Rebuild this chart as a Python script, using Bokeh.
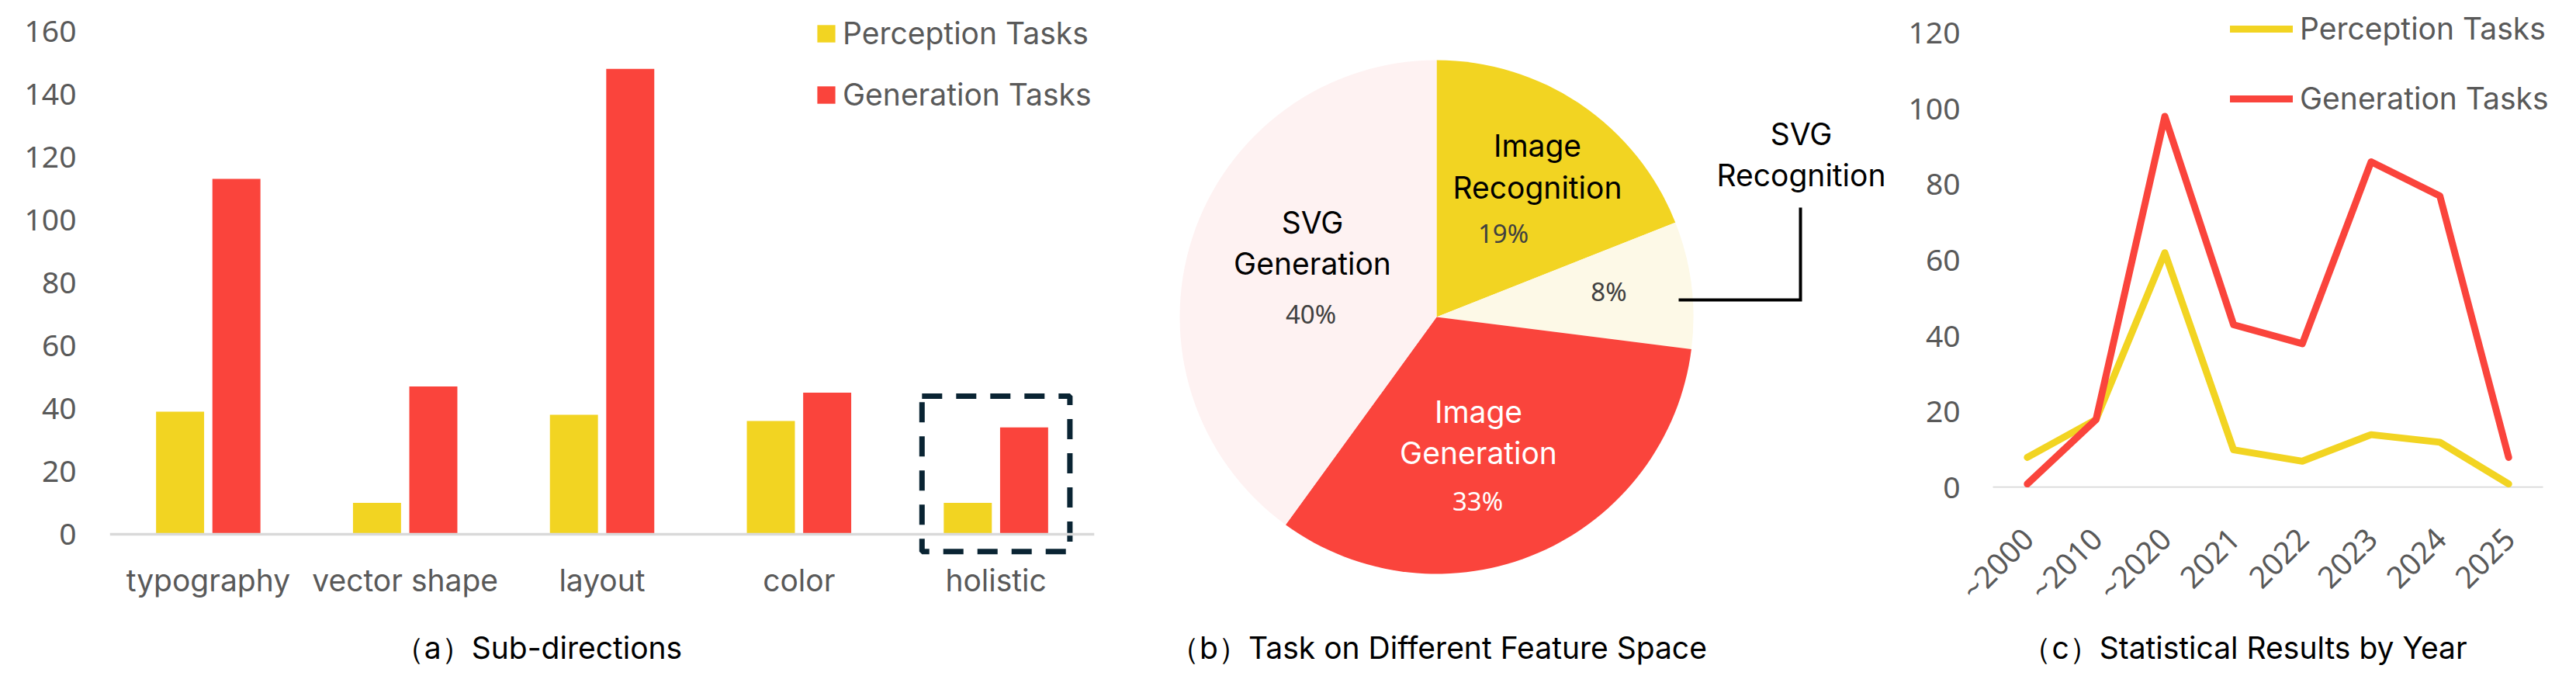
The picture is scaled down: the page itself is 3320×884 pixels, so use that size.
import math
from bokeh.plotting import figure
from bokeh.layouts import row, column
from bokeh.models import (ColumnDataSource, FactorRange, Range1d, FixedTicker,
                          Legend, LegendItem, Span)
from bokeh.transform import dodge
from bokeh.embed import file_html
from bokeh.resources import INLINE
from bokeh.core.properties import value

# ---------------- data ----------------
sub_directions = ["typography", "vector shape", "layout", "color", "holistic"]
perception_counts = [39, 10, 38, 36, 10]
generation_counts = [113, 47, 148, 45, 34]
a_yticks = [0, 20, 40, 60, 80, 100, 120, 140, 160]

pie_names = ["Image Recognition", "SVG Recognition", "Image Generation", "SVG Generation"]
pie_shares = [19, 8, 33, 40]
pie_pct = ["19%", "8%", "33%", "40%"]

years = ["~2000", "~2010", "~2020", "2021", "2022", "2023", "2024", "2025"]
perception_by_year = [8, 18, 62, 10, 7, 14, 12, 1]
generation_by_year = [1, 18, 98, 43, 38, 86, 77, 8]
c_yticks = [0, 20, 40, 60, 80, 100, 120]

legend_names = ["Perception Tasks", "Generation Tasks"]
captions = ["（a）Sub-directions", "（b）Task on Different Feature Space",
            "（c）Statistical Results by Year"]

# ---------------- styles ----------------
YEL = "#F2D422"
RED = "#FA443C"
CREAM = "#FDF9E7"
PINK = "#FEF2F2"
TICK = "#595959"
TXT = "Inter"
NUM = "Noto Sans"
FS = "39px"
H = 806      # height of the chart row
HC = 70      # height of the caption strip


def style_common(p):
    p.outline_line_color = None
    p.background_fill_color = "white"
    p.border_fill_color = "white"
    for g in p.grid:
        g.visible = False


def style_axis(ax, standoff, font):
    ax.axis_line_color = None
    ax.major_tick_line_color = None
    ax.minor_tick_line_color = None
    ax.major_tick_out = 0
    ax.major_tick_in = 0
    ax.major_label_text_font = font
    ax.major_label_text_font_size = FS
    ax.major_label_text_color = TICK
    ax.major_label_standoff = standoff


# ---------------- (a) bars ----------------
fa = figure(width=1450, height=H,
            x_range=FactorRange(*sub_directions), y_range=Range1d(-7.9, 169.75),
            output_backend="svg", toolbar_location=None, frame_align=False,
            min_border_left=141, min_border_right=40,
            min_border_top=0, min_border_bottom=86)
style_common(fa)
src_a = ColumnDataSource(dict(cat=sub_directions, perception=perception_counts,
                              generation=generation_counts))
rp = fa.vbar(x=dodge("cat", -0.143, range=fa.x_range), top="perception", width=0.244,
             source=src_a, fill_color=YEL, line_color=None)
rg = fa.vbar(x=dodge("cat", 0.143, range=fa.x_range), top="generation", width=0.244,
             source=src_a, fill_color=RED, line_color=None)
fa.add_layout(Span(location=0, dimension="width", line_color="#D9D9D9", line_width=3.5))

hol_top = max(perception_counts[-1], generation_counts[-1]) + 9.9
hol_bot = -5.5
fa.rect(x=[sub_directions[-1]], y=[(hol_top + hol_bot) / 2], width=0.751,
        height=hol_top - hol_bot, fill_color=None, line_color="#0A2433",
        line_width=7, line_dash="26 18")

style_axis(fa.xaxis[0], 3, TXT)
style_axis(fa.yaxis[0], 43, NUM)
fa.yaxis[0].ticker = FixedTicker(ticks=a_yticks)

leg_a = Legend(items=[LegendItem(label=legend_names[0], renderers=[rp]),
                      LegendItem(label=legend_names[1], renderers=[rg])],
               location=(909, 575), glyph_width=29, glyph_height=28,
               label_standoff=7, spacing=32, padding=0, margin=0,
               border_line_color=None, background_fill_alpha=0,
               label_text_font=TXT, label_text_font_size=FS, label_text_color=TICK)
fa.add_layout(leg_a)

# ---------------- (b) pie ----------------
fb = figure(width=995, height=H, x_range=Range1d(0, 995), y_range=Range1d(HC, H + HC),
            x_axis_type=None, y_axis_type=None, output_backend="svg",
            toolbar_location=None, min_border=0, frame_align=False)
style_common(fb)
total = float(sum(pie_shares))
cum = [0.0]
for s in pie_shares:
    cum.append(cum[-1] + s / total)
starts = [math.pi / 2 - 2 * math.pi * c for c in cum[:-1]]
ends = [math.pi / 2 - 2 * math.pi * c for c in cum[1:]]
cx, cy, rad = 401, 468, 331
src_b = ColumnDataSource(dict(name=pie_names, share=pie_shares, start=starts, end=ends,
                              color=[YEL, CREAM, RED, PINK]))
fb.wedge(x=cx, y=cy, radius=rad, start_angle="start", end_angle="end",
         direction="clock", fill_color="color", line_color=None, source=src_b)

# name labels (two lines each), placed per slice
name_lines = [n.split(" ") for n in pie_names]
lx = [531, 871, 455, 241]
ly1 = [689, 704, 346, 590]
ly2 = [635, 651, 293, 537]
name_col = ["black", "black", "white", "black"]
fb.text(x=lx, y=ly1, text=[l[0] for l in name_lines], text_color=name_col,
        text_font=value(TXT), text_font_size=FS, text_align="center",
        text_baseline="middle")
fb.text(x=lx, y=ly2, text=[l[1] for l in name_lines], text_color=name_col,
        text_font=value(TXT), text_font_size=FS, text_align="center",
        text_baseline="middle")
px_ = [487, 623, 454, 239]
py_ = [576, 501, 231, 472]
fb.text(x=px_, y=py_, text=pie_pct, text_color=["#404040", "#404040", "white", "#404040"],
        text_font=value(NUM), text_font_size="33px", text_align="center",
        text_baseline="middle")
fb.line(x=[713, 870, 870], y=[490, 490, 609], line_color="black", line_width=4,
        line_join="miter")

# ---------------- (c) lines ----------------
fc = figure(width=867, height=H,
            x_range=FactorRange(*years, range_padding=0.079),
            y_range=Range1d(0, 128.6),
            output_backend="svg", toolbar_location=None, frame_align=False,
            min_border_left=95, min_border_right=7,
            min_border_top=0, min_border_bottom=178)
style_common(fc)
src_c = ColumnDataSource(dict(year=years, perception=perception_by_year,
                              generation=generation_by_year))
# baseline spanning the category slots only
src_base = ColumnDataSource(dict(x0=[years[0]], x1=[years[-1]], y=[0]))
fc.segment(x0=dodge("x0", -0.5, range=fc.x_range), y0="y",
           x1=dodge("x1", 0.5, range=fc.x_range), y1="y", source=src_base,
           line_color="#D9D9D9", line_width=3.5)
lp = fc.line(x="year", y="perception", source=src_c, line_color=YEL, line_width=9,
             line_join="round", line_cap="round")
lg = fc.line(x="year", y="generation", source=src_c, line_color=RED, line_width=9,
             line_join="round", line_cap="round")
style_axis(fc.xaxis[0], 58, NUM)
fc.xaxis[0].major_label_orientation = math.pi / 4
style_axis(fc.yaxis[0], 14, NUM)
fc.yaxis[0].ticker = FixedTicker(ticks=c_yticks)

leg_c = Legend(items=[LegendItem(label=legend_names[0], renderers=[lp]),
                      LegendItem(label=legend_names[1], renderers=[lg])],
               location=(334, 478), glyph_width=81, glyph_height=10,
               label_standoff=9, spacing=43, padding=0, margin=0,
               border_line_color=None, background_fill_alpha=0,
               label_text_font=TXT, label_text_font_size=FS, label_text_color=TICK)
fc.add_layout(leg_c)

# ---------------- caption strip ----------------
fcap = figure(width=3312, height=HC, x_range=Range1d(0, 3312), y_range=Range1d(0, HC),
              x_axis_type=None, y_axis_type=None, output_backend="svg",
              toolbar_location=None, min_border=0, frame_align=False)
style_common(fcap)
fcap.text(x=[693, 1853, 2892], y=[42, 42, 42], text=captions, text_color="black",
          text_font=value(TXT), text_font_size=FS, text_align="center",
          text_baseline="middle")

layout = column(row(fa, fb, fc, spacing=0), fcap, spacing=0)
open("out.html", "w").write(file_html(layout, INLINE))
